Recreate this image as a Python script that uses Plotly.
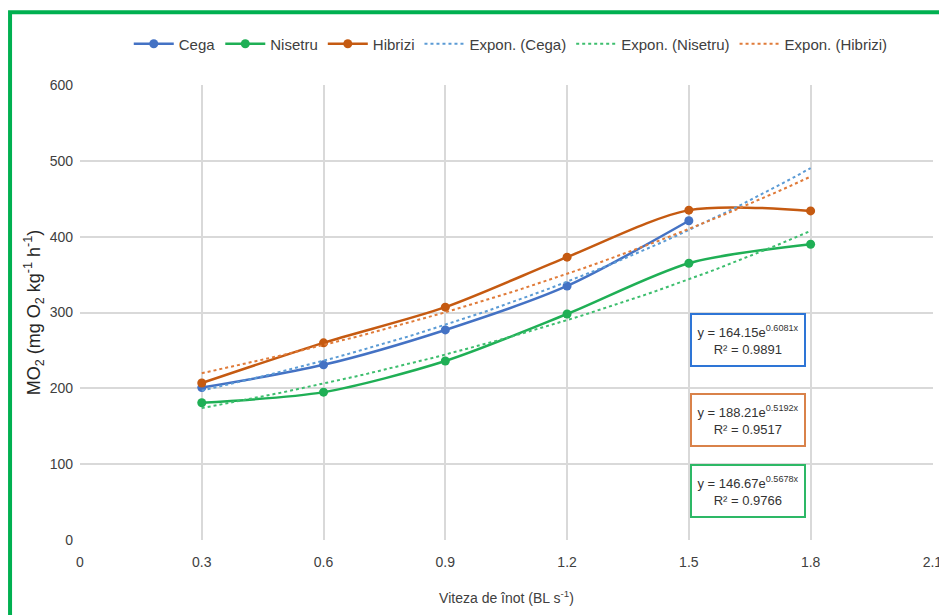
import numpy as np
import plotly.graph_objects as go

# Swimming speed (body lengths per second)
speed = [0.3, 0.6, 0.9, 1.2, 1.5, 1.8]

# Oxygen consumption, mg O2 kg-1 h-1
cega = [201, 231, 277, 335, 421]
nisetru = [181, 195, 236, 298, 365, 390]
hibrizi = [207, 260, 307, 373, 435, 434]

# Exponential fits y = a * exp(b x), with R²
fit_cega = (164.15, 0.6081, 0.9891)
fit_nisetru = (146.67, 0.5678, 0.9766)
fit_hibrizi = (188.21, 0.5192, 0.9517)

BLUE = "#4472C4"
GREEN = "#1FAF55"
ORANGE = "#C55A11"
BLUE_T = "#5B9BD5"
GREEN_T = "#3DBE6E"
ORANGE_T = "#E07B39"

FONT = "Liberation Sans Narrow, Arial Narrow, Liberation Sans, Arial, sans-serif"

fig = go.Figure()

for name, ys, col in [("Cega", cega, BLUE), ("Nisetru", nisetru, GREEN), ("Hibrizi", hibrizi, ORANGE)]:
    fig.add_trace(go.Scatter(
        x=speed[:len(ys)], y=ys, name=name, mode="lines+markers",
        line=dict(color=col, width=2.5, shape="spline", smoothing=0.8),
        marker=dict(color=col, size=9, symbol="circle"),
    ))

xs = np.linspace(speed[0], speed[-1], 60)
for name, fit, col in [("Expon. (Cega)", fit_cega, BLUE_T),
                       ("Expon. (Nisetru)", fit_nisetru, GREEN_T),
                       ("Expon. (Hibrizi)", fit_hibrizi, ORANGE_T)]:
    a, b, _ = fit
    fig.add_trace(go.Scatter(
        x=xs, y=a * np.exp(b * xs), name=name, mode="lines",
        line=dict(color=col, width=2, dash="dot"),
    ))

# Fit equation boxes
for fit, col, yc in [(fit_cega, "#2E75D6", 264), (fit_hibrizi, "#D9824A", 158), (fit_nisetru, "#2DB866", 65)]:
    a, b, r2 = fit
    fig.add_annotation(
        x=1.645, y=yc, xref="x", yref="y",
        text=f"y = {a:.2f}e<sup>{b:.4f}x</sup><br>R² = {r2:.4f}",
        showarrow=False, align="center",
        font=dict(family=FONT, size=13, color="#333333"),
        bordercolor=col, borderwidth=2, borderpad=2, bgcolor="white",
        width=108, height=46,
    )

# Green frame around the chart
fig.add_shape(type="rect", xref="paper", yref="paper",
              x0=-0.082, x1=1.05, y0=-0.2, y1=1.16,
              line=dict(color="#00B050", width=4), layer="above")

fig.update_layout(
    width=939, height=615,
    margin=dict(l=80, r=6, t=85, b=75),
    paper_bgcolor="white", plot_bgcolor="white",
    font=dict(family=FONT, size=14, color="#404040"),
    legend=dict(orientation="h", x=0.505, xanchor="center", y=1.09, yanchor="middle",
                font=dict(family=FONT, size=15, color="#404040"),
                itemwidth=40, tracegroupgap=0, bgcolor="rgba(0,0,0,0)"),
    showlegend=True,
)

fig.update_xaxes(
    range=[0, 2.1015], tickvals=[0, 0.3, 0.6, 0.9, 1.2, 1.5, 1.8, 2.1],
    ticktext=["0", "0.3", "0.6", "0.9", "1.2", "1.5", "1.8", "2.1"],
    automargin=False,
    showgrid=True, gridcolor="#D9D9D9", gridwidth=1.5, zeroline=False,
    showline=False, ticks="", ticklabelstandoff=12, ticklabeloverflow="allow",
    tickfont=dict(family=FONT, size=14, color="#404040"),
    title=dict(text="Viteza de înot (BL s<sup>-1</sup>)", standoff=24,
               font=dict(family=FONT, size=14, color="#404040")),
)
fig.update_yaxes(
    range=[0, 600], dtick=100, automargin=False,
    showgrid=True, gridcolor="#D9D9D9", gridwidth=1.5, zeroline=False,
    showline=False, ticks="", ticklabelstandoff=6,
    tickfont=dict(family=FONT, size=14, color="#404040"),
    title=dict(text="MO<sub>2</sub> (mg O<sub>2</sub> kg<sup>-1</sup> h<sup>-1</sup>)", standoff=4,
               font=dict(family="Liberation Sans, Arial, sans-serif", size=18, color="#262626")),
)

fig.write_html("out.html")
